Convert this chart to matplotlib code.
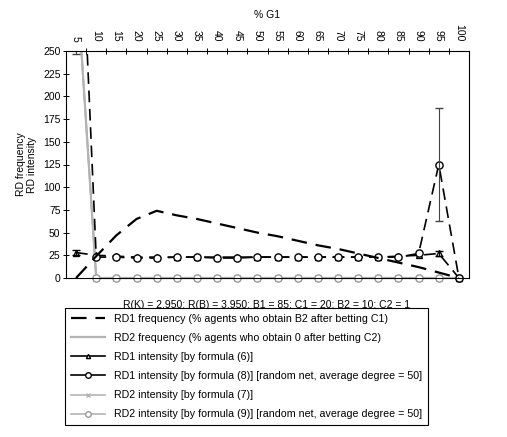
import numpy as np
import matplotlib
matplotlib.use('Agg')
import matplotlib.pyplot as plt
from matplotlib.lines import Line2D
from matplotlib.patches import Rectangle

plt.rcParams['font.family'] = ['Liberation Sans', 'DejaVu Sans']

g1 = [5, 10, 15, 20, 25, 30, 35, 40, 45, 50, 55, 60, 65, 70, 75, 80, 85, 90, 95, 100]

rd1_freq = [0, 24, 47, 65, 74, 69, 65, 60, 55, 50, 46, 41, 36, 32, 27, 22, 17, 12, 6, 0]
rd2_freq = [340, 0, 0, 0, 0, 0, 0, 0, 0, 0, 0, 0, 0, 0, 0, 0, 0, 0, 0, 0]
rd1_int6 = [28, 25, 24, 23, 23, 23, 23, 23, 23, 23, 23, 23, 23, 23, 23, 23, 24, 25, 27, 0]
rd1_int6_err = [3, 0, 0, 0, 0, 0, 0, 0, 0, 0, 0, 0, 0, 0, 0, 0, 0, 0, 3, 0]
rd1_int8 = [527, 23, 23, 22, 22, 23, 23, 22, 22, 23, 23, 23, 23, 23, 23, 23, 23, 27, 125, 0]
rd1_int8_err = [280, 0, 0, 0, 0, 0, 0, 0, 0, 0, 0, 0, 0, 0, 0, 0, 0, 0, 62, 0]
rd2_int7 = [340, 0, 0, 0, 0, 0, 0, 0, 0, 0, 0, 0, 0, 0, 0, 0, 0, 0, 0, 0]
rd2_int9 = [340, 0, 0, 0, 0, 0, 0, 0, 0, 0, 0, 0, 0, 0, 0, 0, 0, 0, 0, 0]

labels = ['RD1 frequency (% agents who obtain B2 after betting C1)',
          'RD2 frequency (% agents who obtain 0 after betting C2)',
          'RD1 intensity [by formula (6)]',
          'RD1 intensity [by formula (8)] [random net, average degree = 50]',
          'RD2 intensity [by formula (7)]',
          'RD2 intensity [by formula (9)] [random net, average degree = 50]']

gray = '#b4b4b4'
dash = (0, (7, 4))

fig = plt.figure(figsize=(5.07, 4.37), dpi=100)
ax = fig.add_axes([66/507, 1-278/437, (469-66)/507, (278-51)/437])

x = np.array(g1)
arts = []
arts += ax.plot(x, rd2_freq, color=gray, lw=1.6)
arts += ax.plot(x, rd2_int7, color=gray, lw=1.2, marker='x', ms=4)
arts += ax.plot(x, rd2_int9, color=gray, lw=1.2, marker='o', ms=5.2, mfc='white', mec='#999999')
arts += ax.plot(x, rd1_int6, color='black', lw=1.2, ls=dash, marker='^', ms=4, mfc='white')
arts += ax.plot(x, rd1_int8, color='black', lw=1.2, ls=dash, marker='o', ms=5.2, mfc='white')
arts += ax.plot(x, rd1_freq, color='black', lw=1.6, ls=dash)

e6 = np.array(rd1_int6_err)
m = e6 > 0
ax.errorbar(x[m], np.array(rd1_int6)[m], yerr=e6[m], fmt='none', ecolor='black', elinewidth=0.8, capsize=3)
e8 = np.array(rd1_int8_err)
m = e8 > 0
ax.errorbar(x[m], np.array(rd1_int8)[m], yerr=e8[m], fmt='none', ecolor='#444444', elinewidth=0.8, capsize=3)

# clip at the top of the plot but let markers sitting on zero show fully
clip = Rectangle((0, -0.1), 1, 1.1, transform=ax.transAxes)
for a in arts:
    a.set_clip_path(clip)

ax.set_xlim(2.5, 102.5)
ax.set_ylim(0, 250)
ax.set_yticks(np.arange(0, 251, 25))
ax.tick_params(axis='y', direction='inout', length=4, width=0.7, labelsize=7.5, pad=2)

ax.xaxis.tick_top()
ax.set_xticks(g1)
ax.set_xticklabels([str(v) for v in g1], rotation=270)
ax.set_xticks(np.arange(7.5, 100, 5), minor=True)
ax.tick_params(axis='x', which='major', length=0, labelsize=7.5, pad=7)
ax.tick_params(axis='x', which='minor', direction='inout', length=4, width=0.7, top=True, bottom=False)
ax.xaxis.set_label_position('top')
ax.set_xlabel('% G1', fontsize=7.5, labelpad=4)
ax.set_ylabel('RD frequency\nRD intensity', fontsize=7.5, labelpad=4)
for s in ax.spines.values():
    s.set_linewidth(0.8)

fig.text(267/507, 1-305/437, 'R(K) = 2.950; R(B) = 3.950; B1 = 85; C1 = 20; B2 = 10; C2 = 1',
         ha='center', va='center', fontsize=7.5)

handles = [Line2D([], [], color='black', lw=1.6, ls=(0, (7, 4))),
           Line2D([], [], color=gray, lw=1.6),
           Line2D([], [], color='black', lw=1.2, marker='^', ms=3, mfc='white'),
           Line2D([], [], color='black', lw=1.2, marker='o', ms=4, mfc='white'),
           Line2D([], [], color=gray, lw=1.2, marker='x', ms=3),
           Line2D([], [], color=gray, lw=1.2, marker='o', ms=4, mfc='white', mec='#999999')]
leg = fig.legend(handles, labels, loc='upper left', bbox_to_anchor=(65/507, 1-308/437),
                 borderaxespad=0, fontsize=7.7, handlelength=3.2, labelspacing=0.85,
                 fancybox=False, edgecolor='black', framealpha=1, borderpad=0.55)
leg.get_frame().set_linewidth(0.8)

fig.savefig('out.png', dpi=100)
